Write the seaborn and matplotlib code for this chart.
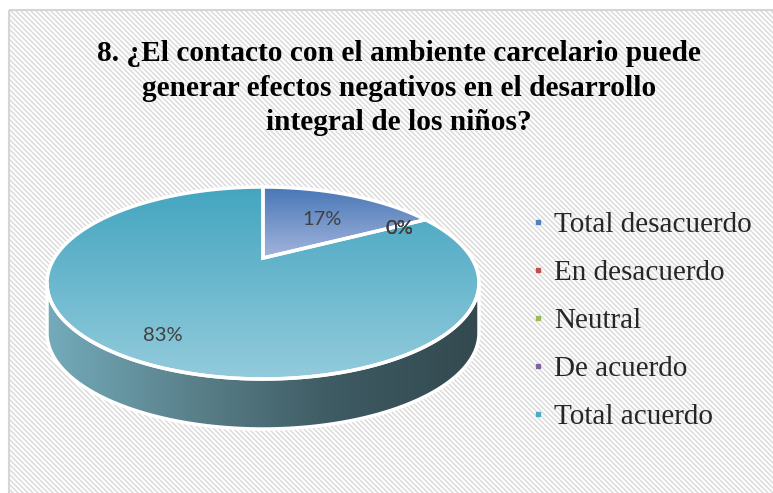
import numpy as np
import matplotlib
matplotlib.use("Agg")
import matplotlib.pyplot as plt
import seaborn as sns
from matplotlib.patches import Polygon, Rectangle
from matplotlib.lines import Line2D
from matplotlib.colors import LinearSegmentedColormap

# data
categories = ["Total desacuerdo", "En desacuerdo", "Neutral", "De acuerdo", "Total acuerdo"]
percentages = [17, 0, 0, 0, 83]
pct_labels = ["17%", "0%", "0%", "0%", "83%"]
title = ("8. ¿El contacto con el ambiente carcelario puede\n"
         "generar efectos negativos en el desarrollo\n"
         "integral de los niños?")

palette = sns.color_palette(["#4F81BD", "#C0504D", "#9BBB59", "#8064A2", "#4BACC6"])
# top-face gradient (top colour, bottom colour) per slice
face_grad = {0: ("#4776b6", "#a3b5dd"), 4: ("#44a5c0", "#93cbdc")}
side_grad = ["#74abbb", "#5a818b", "#3e5a62", "#33494f"]

# projection of the tilted pie (pixel space)
CX, CY, RX, RY = 263, 283, 216, 96
TILT = 0.26
DEPTH = 50
label_r = [0.6, 0.8, 0.8, 0.8, 0.8]

sns.set_style("white")
plt.rcParams["font.family"] = ["Liberation Serif", "DejaVu Serif"]


def project(x, y):
    d = 1 + TILT * y
    xp = x * np.sqrt(1 - TILT ** 2) / d
    yp = (y + TILT) / d
    return CX + RX * xp, CY - RY * yp


def gradient_fill(ax, poly, colors, vertical=True):
    cmap = LinearSegmentedColormap.from_list("g", colors)
    xs, ys = poly[:, 0], poly[:, 1]
    grad = np.linspace(0, 1, 256)
    img = grad[:, None] if vertical else grad[None, :]
    im = ax.imshow(img, cmap=cmap, aspect="auto", origin="upper",
                   extent=(xs.min(), xs.max(), ys.max(), ys.min()), zorder=2)
    clip = Polygon(poly, closed=True, transform=ax.transData, facecolor="none", edgecolor="none")
    ax.add_patch(clip)
    im.set_clip_path(clip)


fig = plt.figure(figsize=(7.73, 4.93), dpi=100)
ax = fig.add_axes([0, 0, 1, 1])
ax.set_xlim(0, 773)
ax.set_ylim(493, 0)
ax.axis("off")

# striped background (fine diagonal texture) and frame
yy, xx = np.mgrid[10:493, 9:773]
stripes = 0.5 + 0.5 * np.cos(2 * np.pi * (xx - yy) / 5.0)
bg_cmap = LinearSegmentedColormap.from_list("bg", ["#ffffff", "#dcdcdc"])
ax.imshow(stripes, cmap=bg_cmap, extent=(9, 773, 493, 10), origin="upper",
          interpolation="nearest", aspect="auto", zorder=0)
ax.add_patch(Rectangle((9, 10), 800, 500, facecolor="none", edgecolor="#d6d6d6",
                       linewidth=1.5, zorder=1))

# side of the pie (front half belongs to the last slice)
phi = np.linspace(np.pi, 2 * np.pi, 200)
top_x = CX + RX * np.cos(phi)
top_y = CY - RY * np.sin(phi)
side = np.vstack([np.column_stack([top_x, top_y]),
                  np.column_stack([top_x[::-1], top_y[::-1] + DEPTH])])
gradient_fill(ax, side, side_grad, vertical=False)
ax.add_patch(Polygon(side, closed=True, facecolor="none", edgecolor="white", linewidth=2.5, zorder=3))

# top faces
total = sum(percentages)
start = 0.0
for i, p in enumerate(percentages):
    sweep = 360.0 * p / total
    mid = np.radians(start + sweep / 2)
    if p > 0:
        ang = np.radians(np.linspace(start, start + sweep, 200))
        px, py = project(np.sin(ang), np.cos(ang))
        cx0, cy0 = project(0, 0)
        poly = np.column_stack([np.r_[cx0, px], np.r_[cy0, py]])
        c0, c1 = face_grad.get(i, (palette[i], palette[i]))
        gradient_fill(ax, poly, [c0, c1])
        ax.add_patch(Polygon(poly, closed=True, facecolor="none", edgecolor="white",
                             linewidth=2.5, zorder=4))
    lx, ly = project(label_r[i] * np.sin(mid), label_r[i] * np.cos(mid))
    ax.text(lx + 3, ly + 2, pct_labels[i], ha="center", va="center", fontsize=14.5,
            color="#404040", family=["Lato", "DejaVu Sans"], zorder=6)
    start += sweep

# legend
handles = [Line2D([], [], marker="s", linestyle="none", markersize=2.6,
                  markerfacecolor=c, markeredgecolor=c) for c in palette]
ax.legend(handles, categories, loc="center left", frameon=False,
          bbox_to_anchor=(531 / 773, 1 - 321 / 493), borderaxespad=0, borderpad=0,
          handlelength=0.5, handletextpad=0.28, labelspacing=0.74,
          prop={"family": "Liberation Serif", "size": 21})

fig.text(399 / 773, 1 - 88 / 493, title, ha="center", va="center", fontsize=21.2,
         fontweight="bold", linespacing=1.36, color="black")

fig.savefig("out.png", dpi=100)
